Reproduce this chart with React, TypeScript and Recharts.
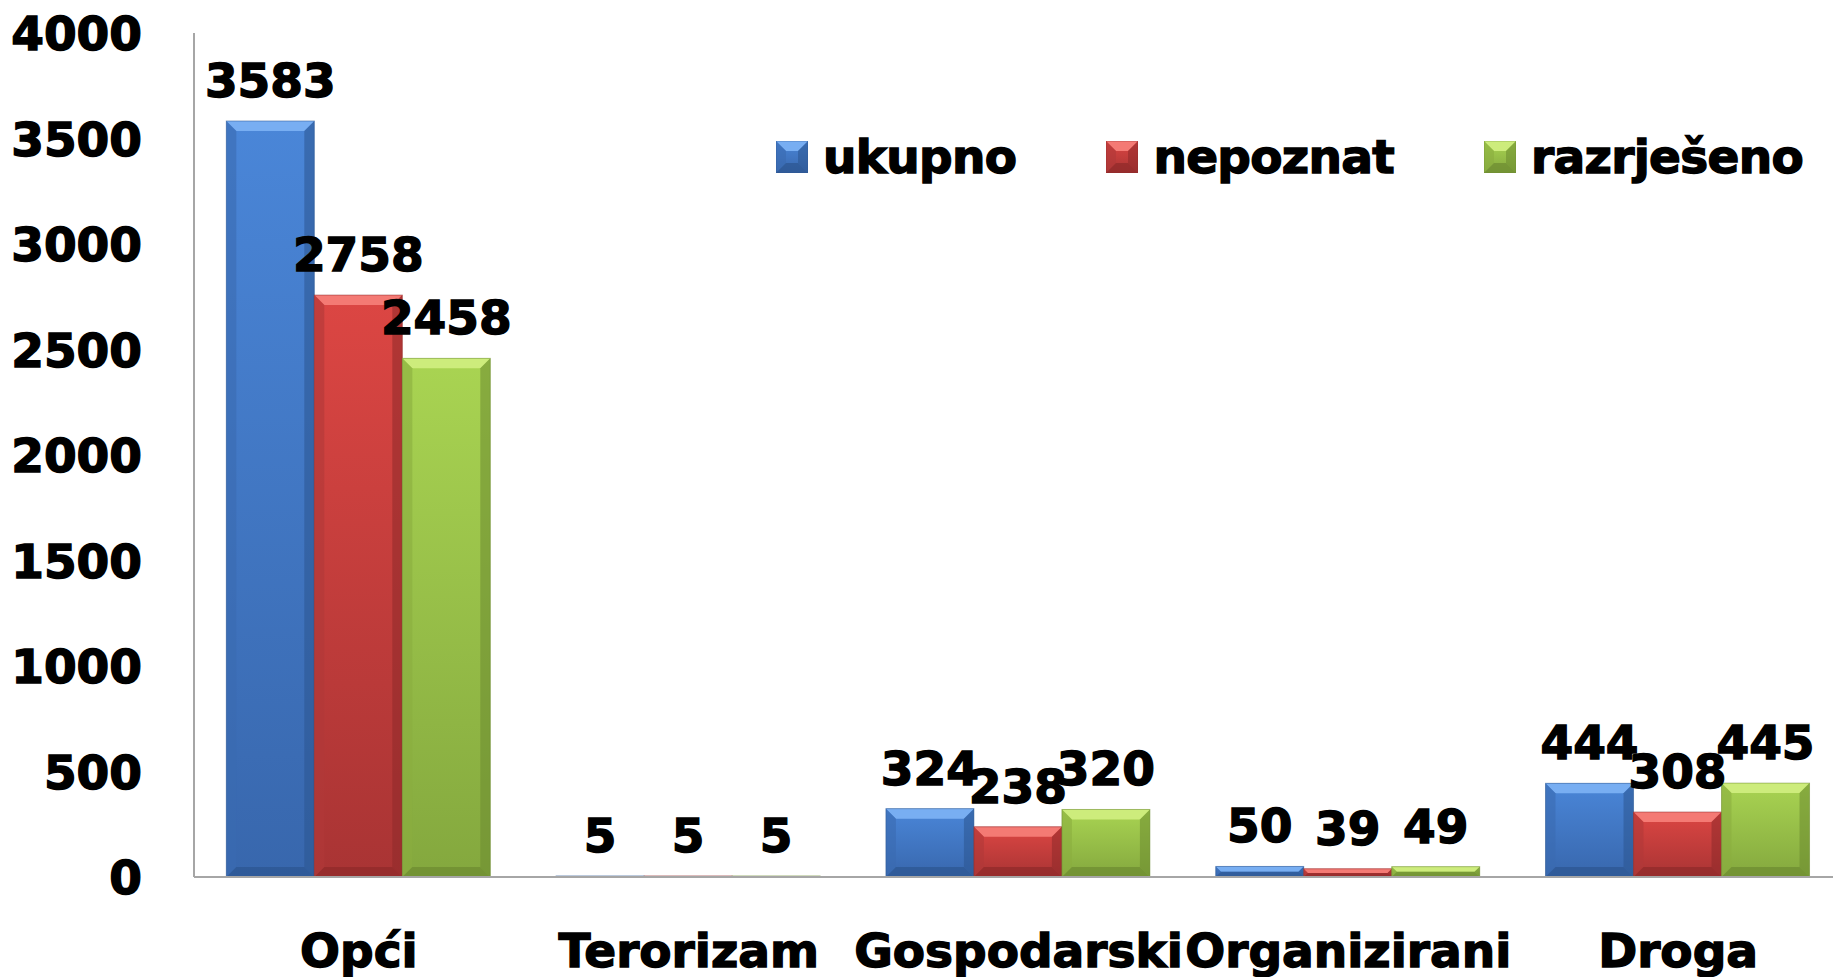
import React from 'react';
import { BarChart, Bar, XAxis, YAxis, Legend, LabelList } from 'recharts';

const categories = ['Opći', 'Terorizam', 'Gospodarski', 'Organizirani', 'Droga'];
const ukupno = [3583, 5, 324, 50, 444];
const nepoznat = [2758, 5, 238, 39, 308];
const razrjeseno = [2458, 5, 320, 49, 445];
const yTicks = [0, 500, 1000, 1500, 2000, 2500, 3000, 3500, 4000];

const data = categories.map((name, i) => ({
  name,
  ukupno: ukupno[i],
  nepoznat: nepoznat[i],
  razrjeseno: razrjeseno[i],
}));

const FONT = '"DejaVu Sans", Arial, sans-serif';

const palette: Record<string, { top: string; bottom: string; light: string; side: string; dark: string }> = {
  ukupno: { top: '#4a86d8', bottom: '#3867ad', light: '#78aef2', side: '#3a6ab0', dark: '#2c5590' },
  nepoznat: { top: '#dc4643', bottom: '#a93434', light: '#f47a74', side: '#b03838', dark: '#8e2a2a' },
  razrjeseno: { top: '#a9d452', bottom: '#84a83e', light: '#cdec7c', side: '#8aae40', dark: '#6c8a30' },
};

const series = [
  { key: 'ukupno', name: 'ukupno' },
  { key: 'nepoznat', name: 'nepoznat' },
  { key: 'razrjeseno', name: 'razrješeno' },
];

// text style shared by all labels, a light stroke makes it look heavier
const textProps = {
  fontFamily: FONT,
  fontWeight: 'bold',
  fontSize: 47,
  fill: '#000',
  stroke: '#000',
  strokeWidth: 1.4,
};

function Bevel({ x, y, width, height, c, id }: any) {
  if (!(height > 0) || !(width > 0)) return null;
  const b = Math.min(10, height / 2, width / 2);
  const r = x + width;
  const btm = y + height;
  return (
    <g>
      <defs>
        <linearGradient id={id} x1="0" y1="0" x2="0" y2="1">
          <stop offset="0%" stopColor={c.top} />
          <stop offset="100%" stopColor={c.bottom} />
        </linearGradient>
      </defs>
      <rect x={x} y={y} width={width} height={height} fill={`url(#${id})`} />
      <polygon points={`${x},${y} ${r},${y} ${r - b},${y + b} ${x + b},${y + b}`} fill={c.light} />
      <polygon points={`${x},${y} ${x + b},${y + b} ${x + b},${btm - b} ${x},${btm}`} fill={c.side} opacity={0.6} />
      <polygon points={`${r},${y} ${r},${btm} ${r - b},${btm - b} ${r - b},${y + b}`} fill={c.dark} opacity={0.55} />
      <polygon points={`${x},${btm} ${x + b},${btm - b} ${r - b},${btm - b} ${r},${btm}`} fill={c.dark} opacity={0.7} />
      <rect x={x} y={y} width={width} height={Math.max(height, 1)} fill="none" stroke={c.dark} strokeOpacity={0.5} strokeWidth={1} />
    </g>
  );
}

const makeShape = (key: string) => (props: any) => (
  <Bevel
    x={props.x}
    y={props.y}
    width={props.width}
    height={props.height}
    c={palette[key]}
    id={`grad-${key}-${props.index}`}
  />
);

const ValueLabel = (props: any) => {
  const { x, y, width, value } = props;
  return (
    <text x={x + width / 2} y={y - 24} textAnchor="middle" {...textProps}>
      {value}
    </text>
  );
};

const XTick = ({ x, y, payload }: any) => (
  <text x={x} y={y + 90} textAnchor="middle" {...textProps}>
    {payload.value}
  </text>
);

const YTick = ({ x, y, payload }: any) => (
  <text x={x - 52} y={y + 17} textAnchor="end" {...textProps}>
    {payload.value}
  </text>
);

const LegendContent = () => (
  <div style={{ display: 'flex', alignItems: 'center', gap: 90 }}>
    {series.map((s) => (
      <div key={s.key} style={{ display: 'flex', alignItems: 'center', gap: 15 }}>
        <svg width={32} height={32}>
          <Bevel x={0} y={0} width={32} height={32} c={palette[s.key]} id={`leg-${s.key}`} />
        </svg>
        <span
          style={{
            fontFamily: FONT,
            fontWeight: 'bold',
            fontSize: 47,
            lineHeight: '32px',
            color: '#000',
            letterSpacing: -0.7,
            WebkitTextStroke: '1.4px #000',
          }}
        >
          {s.name}
        </span>
      </div>
    ))}
  </div>
);

export default function App() {
  return (
    <div style={{ position: 'absolute', left: 0, top: 0, width: 1833, height: 977, overflow: 'hidden', background: '#fff' }}>
      <BarChart
        width={1843}
        height={977}
        data={data}
        margin={{ top: 33, right: 0, left: 0, bottom: 0 }}
        barCategoryGap="9.8%"
        barGap={0}
      >
        <XAxis
          dataKey="name"
          height={100}
          tickLine={false}
          tickSize={0}
          tickMargin={0}
          axisLine={{ stroke: '#a6a6a6', strokeWidth: 2 }}
          tick={<XTick />}
          interval={0}
        />
        <YAxis
          width={194}
          domain={[0, 4000]}
          ticks={yTicks}
          tickLine={false}
          tickSize={0}
          tickMargin={0}
          axisLine={{ stroke: '#a6a6a6', strokeWidth: 2 }}
          tick={<YTick />}
          interval={0}
        />
        <Legend
          layout="vertical"
          align="center"
          verticalAlign="middle"
          content={<LegendContent />}
          wrapperStyle={{ left: 776, top: 141, width: 'auto', height: 'auto' }}
        />
        {series.map((s) => (
          <Bar key={s.key} dataKey={s.key} name={s.name} shape={makeShape(s.key)} isAnimationActive={false}>
            <LabelList dataKey={s.key} content={<ValueLabel />} />
          </Bar>
        ))}
      </BarChart>
    </div>
  );
}
